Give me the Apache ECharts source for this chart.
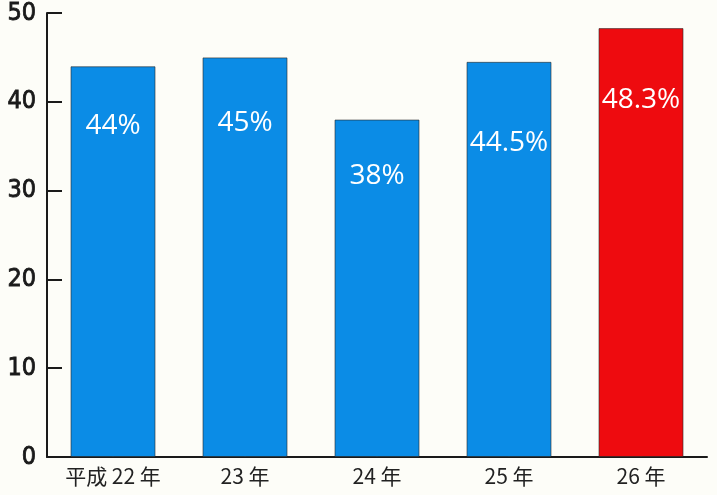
<!DOCTYPE html>
<html><head><meta charset="utf-8">
<script src="https://cdn.jsdelivr.net/npm/echarts@6/dist/echarts.min.js"></script>
<style>html,body{margin:0;padding:0;background:#fdfdf8;}#c{width:717px;height:495px;}</style>
</head><body><div id="c"></div>
<script>
var categories = ['平成 22 年', '23 年', '24 年', '25 年', '26 年'];
var values = [44, 45, 38, 44.5, 48.3];
var labels = ['44%', '45%', '38%', '44.5%', '48.3%'];
var yTicks = [0, 10, 20, 30, 40, 50];

var barColors = ['#0b8ce6', '#0b8ce6', '#0b8ce6', '#0b8ce6', '#ee0b0f'];
var labelDistance = [46, 52, 42, 67, 58];

var chart = echarts.init(document.getElementById('c'));
chart.setOption({
  backgroundColor: '#fdfdf8',
  animation: false,
  grid: { left: 47, right: 10, top: 13, bottom: 38 },
  xAxis: {
    type: 'category',
    data: categories,
    axisLine: { lineStyle: { color: '#1a1a1a', width: 2 } },
    axisTick: { show: true, inside: true, length: 9, alignWithLabel: true, lineStyle: { color: '#333', width: 1.5 } },
    axisLabel: { color: '#222', fontSize: 21, fontFamily: 'Noto Sans CJK JP', margin: 9 }
  },
  yAxis: {
    type: 'value',
    min: 0, max: 50, interval: 10,
    splitLine: { show: false },
    axisLine: { show: true, lineStyle: { color: '#1a1a1a', width: 2 } },
    axisTick: { show: true, inside: true, length: 15, lineStyle: { color: '#1a1a1a', width: 2 } },
    axisLabel: {
      color: '#1a1a1a', fontSize: 25, fontFamily: '"DejaVu Sans Condensed", sans-serif', margin: 11,
      textBorderColor: '#1a1a1a', textBorderWidth: 0.8,
      formatter: function (v) { return yTicks.indexOf(v) >= 0 ? String(v) : ''; }
    }
  },
  series: [{
    type: 'bar',
    barWidth: 85,
    data: values.map(function (v, i) {
      return {
        value: v,
        itemStyle: { color: barColors[i], borderColor: 'rgba(40,40,40,0.6)', borderWidth: 1 },
        label: { distance: labelDistance[i] }
      };
    }),
    label: {
      show: true,
      position: 'insideTop',
      color: '#fff',
      fontSize: 28,
      fontFamily: 'Open Sans, sans-serif',
      formatter: function (p) { return labels[p.dataIndex]; }
    }
  }]
});
</script></body></html>
